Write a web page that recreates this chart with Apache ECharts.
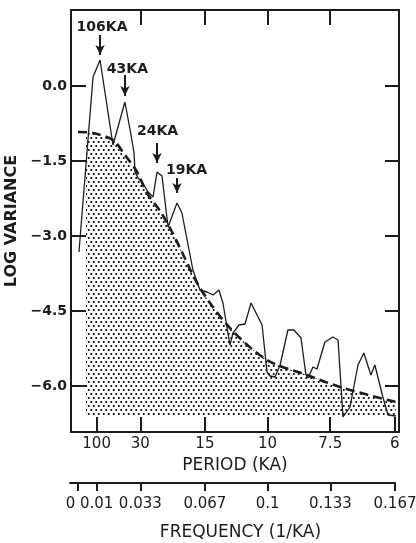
<!DOCTYPE html>
<html><head><meta charset="utf-8">
<script src="https://cdn.jsdelivr.net/npm/echarts@6/dist/echarts.min.js"></script>
<style>html,body{margin:0;padding:0;background:#fff}#c{width:416px;height:543px}</style>
</head><body><div id="c"></div>
<script>
// ---- data ----
const specFreq = [0.0007,0.0081,0.0118,0.0186,0.0249,0.0281,0.0297,0.0302,0.0318,0.0339,0.0371,0.0397,0.0418,0.0444,0.0476,0.0523,0.0549,0.0607,0.0644,0.0681,0.0713,0.0744,0.0765,0.0786,0.0802,0.0818,0.0849,0.0881,0.0913,0.0971,0.0997,0.1013,0.1039,0.1066,0.1107,0.1139,0.1176,0.1202,0.1213,0.1239,0.1260,0.1302,0.1344,0.1371,0.1397,0.1434,0.1476,0.1507,0.1544,0.1565,0.1607,0.1634,0.1676];
const specLogVar = [-3.32,0.18,0.52,-1.18,-0.32,-0.98,-1.34,-1.72,-1.84,-1.92,-2.12,-2.22,-1.72,-1.80,-2.82,-2.34,-2.54,-3.68,-4.08,-4.12,-4.18,-4.08,-4.34,-4.82,-5.18,-4.94,-4.78,-4.76,-4.34,-4.78,-5.72,-5.80,-5.82,-5.58,-4.88,-4.88,-5.04,-5.78,-5.84,-5.62,-5.66,-5.12,-5.02,-5.08,-6.62,-6.42,-5.58,-5.34,-5.78,-5.58,-6.22,-6.58,-6.60];
const fitFreq = [0.0002,0.0081,0.0186,0.0249,0.0313,0.0365,0.0434,0.0486,0.0539,0.0644,0.0802,0.0997,0.1207,0.1397,0.1676];
const fitLogVar = [-0.92,-0.94,-1.08,-1.38,-1.72,-2.14,-2.50,-2.84,-3.24,-4.04,-4.84,-5.48,-5.78,-6.04,-6.32];
const shadeStartFreq = 0.0044;
const shadeStartLogVar = -0.94;
const shadeFloor = -6.6;
const periodTickFreq = [0.01,0.033,0.067,0.1,0.133,0.167];
const periodTickLabels = ['100','30','15','10','7.5','6'];
const topTickFreq = [0.033,0.067,0.1,0.133];
const freqTicks = [0,0.01,0.033,0.067,0.1,0.133,0.167];
const freqTickLabels = ['0','0.01','0.033','0.067','0.1','0.133','0.167'];
const yTicks = [0,-1.5,-3,-4.5,-6];
const peakIndex = [2,4,12,15];
const peakLabels = ['106KA','43KA','24KA','19KA'];

// ---- layout / style ----
const INK = '#1c1c1c';
const FONT = 'DejaVu Sans';
const labelOffsets = [[2,-33],[2.5,-33],[0.5,-41],[9.5,-33]];
const arrowTop = [0.5,0.54,0.58,0.5];
const arrowTip = [0.1,0.12,0.18,0.2];

const pc = document.createElement('canvas'); pc.width = 5; pc.height = 8;
const g = pc.getContext('2d'); g.fillStyle = '#000';
[[1.25,2],[3.75,6]].forEach(p => { g.beginPath(); g.arc(p[0],p[1],1.05,0,Math.PI*2); g.fill(); });

function pick(list, labels, v){ for (let i=0;i<list.length;i++) if (Math.abs(list[i]-v)<1e-9) return labels[i]; return ''; }

const spec = specFreq.map((f,i)=>[f,specLogVar[i]]);
const fit = fitFreq.map((f,i)=>[f,fitLogVar[i]]);
const shade = [[shadeStartFreq,shadeStartLogVar]].concat(fit.slice(1));

const chart = echarts.init(document.getElementById('c'), null, {renderer:'canvas'});
chart.setOption({
  animation:false,
  backgroundColor:'#fff',
  grid:[{left:71,top:10,width:328,height:422,containLabel:false,outerBoundsMode:'none'},
        {left:70,top:482,width:325,height:1,containLabel:false,outerBoundsMode:'none'}],
  xAxis:[
    {gridIndex:0,type:'value',min:-0.0035,max:0.1692,position:'bottom',
     axisLine:{show:true,onZero:false,lineStyle:{color:INK,width:2}},
     axisTick:{show:true,inside:true,length:15,customValues:periodTickFreq,lineStyle:{color:INK,width:2}},
     axisLabel:{show:true,customValues:periodTickFreq,formatter:v=>pick(periodTickFreq,periodTickLabels,v),fontFamily:FONT,fontSize:15,color:INK,margin:5},
     splitLine:{show:false},
     name:'PERIOD (KA)',nameLocation:'middle',nameGap:24,nameTextStyle:{fontFamily:FONT,fontSize:17,color:INK}},
    {gridIndex:0,type:'value',min:-0.0035,max:0.1692,position:'top',
     axisLine:{show:true,onZero:false,lineStyle:{color:INK,width:2}},
     axisTick:{show:true,inside:true,length:15,customValues:topTickFreq,lineStyle:{color:INK,width:2}},
     axisLabel:{show:false},splitLine:{show:false}},
    {gridIndex:1,type:'value',min:-0.004,max:0.167,position:'bottom',
     axisLine:{show:true,onZero:false,lineStyle:{color:INK,width:2}},
     axisTick:{show:true,inside:false,length:8,customValues:freqTicks,lineStyle:{color:INK,width:2}},
     axisLabel:{show:true,customValues:freqTicks,
       formatter:v=>{const s=pick(freqTicks,freqTickLabels,v); return v===0?'{z|'+s+'}':s;},
       rich:{z:{padding:[0,14,0,0],fontFamily:FONT,fontSize:15,color:INK}},
       fontFamily:FONT,fontSize:15,color:INK,margin:14},
     splitLine:{show:false},
     name:'FREQUENCY (1/KA)',nameLocation:'middle',nameGap:41,nameTextStyle:{fontFamily:FONT,fontSize:17,color:INK,padding:[0,0,0,16]}}
  ],
  yAxis:[
    {gridIndex:0,type:'value',min:-6.92,max:1.52,position:'left',
     axisLine:{show:true,onZero:false,lineStyle:{color:INK,width:2}},
     axisTick:{show:true,inside:true,length:15,customValues:yTicks,lineStyle:{color:INK,width:2}},
     axisLabel:{show:true,customValues:yTicks,formatter:v=>v.toFixed(1).replace('-','\u2212'),fontFamily:FONT,fontWeight:'bold',fontSize:14,color:INK,margin:4},
     splitLine:{show:false},
     name:'LOG VARIANCE',nameLocation:'middle',nameGap:45,nameTextStyle:{fontFamily:FONT,fontWeight:'bold',fontSize:16,color:INK}},
    {gridIndex:0,type:'value',min:-6.92,max:1.52,position:'right',
     axisLine:{show:true,onZero:false,lineStyle:{color:INK,width:2}},
     axisTick:{show:true,inside:true,length:14,customValues:yTicks,lineStyle:{color:INK,width:2}},
     axisLabel:{show:false},splitLine:{show:false}},
    {gridIndex:1,type:'value',min:0,max:1,show:false}
  ],
  series:[
    {type:'line',name:'shade',xAxisIndex:0,yAxisIndex:0,data:shade,smooth:0.3,showSymbol:false,silent:true,z:1,
     lineStyle:{width:0,opacity:0},
     areaStyle:{origin:shadeFloor,opacity:1,color:{image:pc,repeat:'repeat'}}},
    {type:'line',name:'fit',xAxisIndex:0,yAxisIndex:0,data:fit,smooth:0.3,showSymbol:false,silent:true,z:3,
     lineStyle:{color:INK,width:2.6,type:[9,5]}},
    {type:'line',name:'spectrum',xAxisIndex:0,yAxisIndex:0,data:spec,showSymbol:false,silent:true,z:4,
     lineStyle:{color:INK,width:1.3},
     markLine:{silent:true,symbol:['none','arrow'],symbolSize:[7,10],animation:false,
       itemStyle:{color:INK},
       lineStyle:{color:INK,width:2,type:'solid'},label:{show:false},
       data:peakIndex.map((k,i)=>[{coord:[specFreq[k],specLogVar[k]+arrowTop[i]]},{coord:[specFreq[k],specLogVar[k]+arrowTip[i]]}])},
     markPoint:{silent:true,symbol:'circle',symbolSize:0,animation:false,
       data:peakIndex.map((k,i)=>({coord:[specFreq[k],specLogVar[k]],
         label:{show:true,formatter:peakLabels[i],offset:labelOffsets[i],position:'inside',
           fontFamily:FONT,fontWeight:'bold',fontSize:14,color:INK}}))}}
  ]
});
</script></body></html>
